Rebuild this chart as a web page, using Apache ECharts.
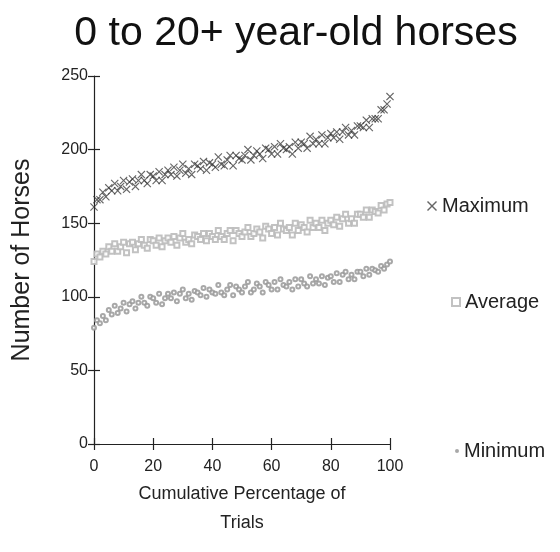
<!DOCTYPE html>
<html>
<head>
<meta charset="utf-8">
<script src="https://cdn.jsdelivr.net/npm/echarts@6/dist/echarts.min.js"></script>
<style>html,body{margin:0;padding:0;background:#fff}#c{width:560px;height:552px}</style>
</head>
<body>
<div id="c"></div>
<script>
const titleText = '0 to 20+ year-old horses';
const xTitle = 'Cumulative Percentage of\nTrials';
const yTitle = 'Number of Horses';
const seriesNames = ['Maximum', 'Average', 'Minimum'];
const xTicks = [0, 20, 40, 60, 80, 100];
const yTicks = [0, 50, 100, 150, 200, 250];

// cumulative percentage of trials, 0..100
const pct = Array.from({length: 101}, (_, i) => i);

const maximum = [161,166,166,171,168,174,172,177,172,175,179,173,178,180,175,179,183,179,177,183,
182,179,185,179,183,186,183,188,182,186,190,184,187,183,190,189,187,192,186,191,
190,188,195,190,189,193,196,189,196,194,193,196,200,193,196,199,197,194,201,200,
197,202,197,204,201,200,202,197,205,201,205,204,201,209,204,207,204,210,204,208,
211,208,212,207,212,215,210,213,210,216,216,215,220,215,221,221,221,227,227,231,236];

const average = [124,129,127,131,129,134,131,136,131,134,137,130,136,137,132,136,139,135,133,139,
138,135,140,134,138,140,137,141,135,140,143,137,139,136,142,141,139,143,138,143,
141,139,145,141,139,143,145,138,145,143,141,144,147,141,143,146,144,140,148,146,
143,147,142,150,146,145,147,142,150,145,149,147,144,152,147,150,147,152,145,150,
152,149,154,148,153,156,150,153,150,156,156,154,159,154,159,158,157,162,159,163,164];

const minimum = [79,84,82,87,84,91,88,94,89,92,96,90,95,97,92,96,100,96,94,100,
99,96,102,95,99,102,99,103,97,102,105,99,102,98,104,103,101,106,100,105,
103,102,108,103,101,105,108,101,107,105,103,107,110,103,105,109,107,103,110,108,
105,110,105,112,108,107,110,105,112,107,112,109,107,114,109,112,109,114,108,113,
114,110,116,110,115,117,112,115,112,117,117,114,119,115,119,118,117,121,119,122,124];

const pair = arr => pct.map((x, i) => [x, arr[i]]);

const crossPath = 'path://M0,1L1,0L5,4L9,0L10,1L6,5L10,9L9,10L5,6L1,10L0,9L4,5Z';
const FONT = 'Liberation Sans';

const chart = echarts.init(document.getElementById('c'), null, {renderer: 'canvas'});
const axisLineStyle = {color: '#222', width: 1.2};
chart.setOption({
  animation: false,
  backgroundColor: '#fff',
  textStyle: {fontFamily: FONT},
  title: {
    text: titleText, left: 291, top: 8, textAlign: 'center',
    textStyle: {fontSize: 41, fontWeight: 'normal', color: '#111', fontFamily: FONT}
  },
  grid: {left: 94, right: 170, top: 76, bottom: 108, containLabel: false},
  legend: [
    {data: [{name: 'Maximum', icon: crossPath}], left: 422, top: 191, itemWidth: 10, itemHeight: 10, itemGap: 7,
     textStyle: {fontSize: 20, color: '#222', fontFamily: FONT}},
    {data: [{name: 'Average', icon: 'emptyRect'}], left: 446, top: 287, itemWidth: 8, itemHeight: 8, itemGap: 13,
     textStyle: {fontSize: 20, color: '#222', fontFamily: FONT}},
    {data: [{name: 'Minimum', icon: 'circle'}], left: 450, top: 436, itemWidth: 4, itemHeight: 4, itemGap: 15,
     textStyle: {fontSize: 20, color: '#222', fontFamily: FONT}}
  ],
  xAxis: [
    {type: 'value', min: 0, max: 100, interval: 20, position: 'bottom',
     name: xTitle, nameLocation: 'middle', nameGap: 35,
     nameTextStyle: {fontSize: 18, color: '#222', lineHeight: 29, fontFamily: FONT},
     axisLine: {show: true, lineStyle: axisLineStyle},
     axisTick: {show: true, length: 6, lineStyle: axisLineStyle},
     axisLabel: {fontSize: 16, color: '#222', margin: 15, fontFamily: FONT,
       formatter: v => xTicks.includes(v) ? String(v) : ''},
     splitLine: {show: false}},
    {type: 'value', min: 0, max: 100, interval: 20, position: 'bottom',
     axisLine: {show: false},
     axisTick: {show: true, inside: true, length: 6, lineStyle: axisLineStyle},
     axisLabel: {show: false}, splitLine: {show: false}}
  ],
  yAxis: [
    {type: 'value', min: 0, max: 250, interval: 50, position: 'left',
     name: yTitle, nameLocation: 'middle', nameGap: 59,
     nameTextStyle: {fontSize: 25, color: '#222', fontFamily: FONT},
     axisLine: {show: true, lineStyle: axisLineStyle},
     axisTick: {show: true, length: 6, lineStyle: axisLineStyle},
     axisLabel: {fontSize: 16, color: '#222', margin: 6, fontFamily: FONT,
       formatter: v => yTicks.includes(v) ? String(v) : ''},
     splitLine: {show: false}},
    {type: 'value', min: 0, max: 250, interval: 50, position: 'left',
     axisLine: {show: false},
     axisTick: {show: true, inside: true, length: 6, lineStyle: axisLineStyle},
     axisLabel: {show: false}, splitLine: {show: false}}
  ],
  series: [
    {name: 'Minimum', type: 'scatter', data: pair(minimum), symbol: 'emptyCircle', symbolSize: 4,
     itemStyle: {color: '#999', borderWidth: 1, opacity: 0.85}},
    {name: 'Average', type: 'scatter', data: pair(average), symbol: 'emptyRect', symbolSize: 5,
     itemStyle: {color: '#bbb', borderWidth: 1, opacity: 0.9}},
    {name: 'Maximum', type: 'scatter', data: pair(maximum), symbol: crossPath, symbolSize: 8,
     itemStyle: {color: '#333', opacity: 0.75}}
  ]
});
</script>
</body>
</html>
